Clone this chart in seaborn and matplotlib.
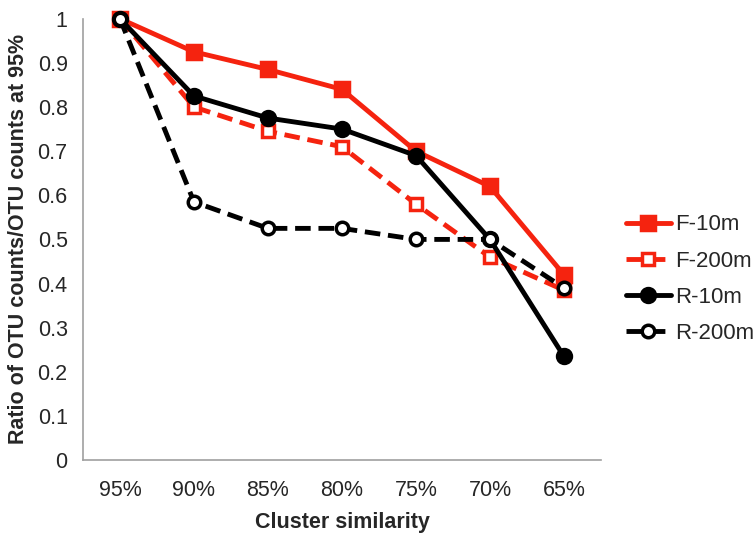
import numpy as np
import pandas as pd
import seaborn as sns
import matplotlib.pyplot as plt

# data
categories = ["95%", "90%", "85%", "80%", "75%", "70%", "65%"]
f_10m = [1.0, 0.925, 0.885, 0.84, 0.70, 0.62, 0.42]
f_200m = [1.0, 0.80, 0.745, 0.71, 0.58, 0.46, 0.385]
r_10m = [1.0, 0.825, 0.775, 0.75, 0.69, 0.50, 0.235]
r_200m = [1.0, 0.585, 0.525, 0.525, 0.50, 0.50, 0.39]
series_names = ["F-10m", "F-200m", "R-10m", "R-200m"]

sns.set_style("white")
plt.rcParams['font.family'] = ['Liberation Sans', 'DejaVu Sans']

RED = "#f5230f"
styles = {
    "F-10m": dict(color=RED, dash=None, marker="s", face=RED, ms=10),
    "F-200m": dict(color=RED, dash=(3.2, 1.6), marker="s", face="white", ms=9),
    "R-10m": dict(color="black", dash=None, marker="o", face="black", ms=10),
    "R-200m": dict(color="black", dash=(3.2, 1.6), marker="o", face="white", ms=9),
}

rows = []
for name, vals in zip(series_names, [f_10m, f_200m, r_10m, r_200m]):
    for c, v in zip(categories, vals):
        rows.append({"Similarity": c, "Ratio": v, "Series": name})
df = pd.DataFrame(rows)

fig = plt.figure(figsize=(7.54, 5.35), dpi=100)
ax = fig.add_axes([0.110, 0.140, 0.687, 0.825])

for name in series_names:
    st = styles[name]
    sub = df[df["Series"] == name]
    sns.lineplot(data=sub, x="Similarity", y="Ratio", ax=ax, color=st["color"],
                 linewidth=3.5, marker=st["marker"], markersize=st["ms"],
                 markerfacecolor=st["face"], markeredgecolor=st["color"],
                 markeredgewidth=2.5, label=name, clip_on=False, sort=False)
    line = ax.lines[-1]
    if st["dash"]:
        line.set_dashes(st["dash"])
    line.set_clip_on(False)

ax.set_xlim(-0.5, len(categories) - 0.5)
ax.set_ylim(0, 1)
ax.set_yticks(np.arange(0, 1.01, 0.1))
ax.set_yticklabels(["0"] + [f"{v:.1f}" for v in np.arange(0.1, 0.95, 0.1)] + ["1"])

# category boundary ticks, labels in the middle
ax.set_xticks(np.arange(-0.5, len(categories), 1.0))
ax.set_xticklabels([])
ax.set_xticks(np.arange(len(categories)), minor=True)
ax.set_xticklabels(categories, minor=True)
ax.tick_params(axis="x", which="major", length=7, width=1, color="#a0a0a0", direction="out")
ax.tick_params(axis="x", which="minor", length=0, labelsize=15.5, pad=14)
ax.tick_params(axis="y", length=7, width=1, color="#a0a0a0", direction="out", labelsize=15.5, pad=4)

for side in ["top", "right"]:
    ax.spines[side].set_visible(False)
for side in ["left", "bottom"]:
    ax.spines[side].set_color("#a0a0a0")
    ax.spines[side].set_linewidth(1.2)

ax.set_xlabel("Cluster similarity", fontsize=15.5, fontweight="bold", labelpad=8)
ax.set_ylabel("Ratio of OTU counts/OTU counts at 95%", fontsize=15.5, fontweight="bold", labelpad=6)

ax.legend(loc="center left", bbox_to_anchor=(1.01, 0.41), frameon=False,
          fontsize=16, handlelength=2.0, handletextpad=0.2, labelspacing=0.68)

fig.savefig("out.png", dpi=100)
plt.close()
